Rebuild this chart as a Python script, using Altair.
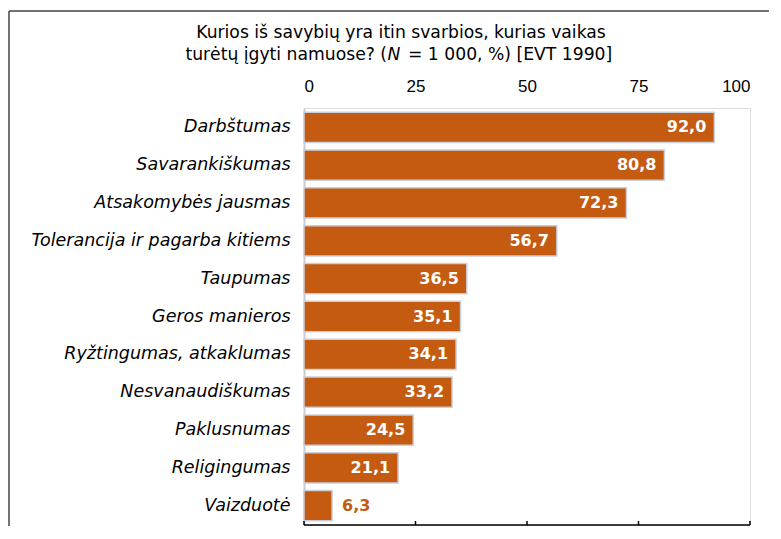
import altair as alt
import pandas as pd

categories = ["Darbštumas", "Savarankiškumas", "Atsakomybės jausmas",
              "Tolerancija ir pagarba kitiems", "Taupumas", "Geros manieros",
              "Ryžtingumas, atkaklumas", "Nesvanaudiškumas", "Paklusnumas",
              "Religingumas", "Vaizduotė"]
values = [92.0, 80.8, 72.3, 56.7, 36.5, 35.1, 34.1, 33.2, 24.5, 21.1, 6.3]
tick_values = [0, 25, 50, 75, 100]
title_line1 = "Kurios iš savybių yra itin svarbios, kurias vaikas"
title_line2_parts = ["turėtų įgyti namuose? (", "N", "= 1 000, %) [EVT 1990]"]

W, H = 446, 417
ORANGE = "#c55a11"
FONT = "Liberation Sans"
WIDE = "DejaVu Sans"
TS = 17.2

df = pd.DataFrame({"cat": categories, "val": values})
df["label"] = [f"{v:.1f}".replace(".", ",") for v in values]
ticks_df = pd.DataFrame({"t": tick_values})
title_df = pd.DataFrame({"line": [title_line1] + title_line2_parts, "row": [0, 1, 2, 3]})

xscale = alt.Scale(domain=[0, 100])
yscale = alt.Scale(domain=categories, paddingInner=0.2, paddingOuter=0.11)

base = alt.Chart(df)
one = alt.Chart(ticks_df).transform_filter(alt.datum.t == 0)

frame_top = one.mark_rule(color="#444444", strokeWidth=1.5).encode(
    x=alt.value(-295), x2=alt.value(W + 19), y=alt.value(-97))
frame_left = one.mark_rule(color="#444444", strokeWidth=1.5).encode(
    x=alt.value(-295), y=alt.value(-97), y2=alt.value(H + 60))


def tpart(row, x, y, align, style="normal"):
    return alt.Chart(title_df).mark_text(
        align=align, baseline="middle", fontSize=TS, font=WIDE, color="#000",
        fontStyle=style).encode(
        x=alt.value(x), y=alt.value(y), text="line:N"
    ).transform_filter(alt.datum.row == row)


t1 = tpart(0, 97, -75, "center")
t2a = tpart(1, 83, -53, "right")
t2b = tpart(2, 90, -53, "center", "italic")
t2c = tpart(3, 104, -53, "left")

bars = base.mark_bar(color=ORANGE, stroke="#c9d0dc", strokeWidth=1.5).encode(
    x=alt.X("val:Q", scale=xscale,
            axis=alt.Axis(orient="top", values=tick_values, format="d", title=None,
                          domain=False, ticks=False, grid=False, labelFontSize=17,
                          labelFont=FONT, labelColor="#000", labelPadding=13)),
    y=alt.Y("cat:N", scale=yscale, sort=categories,
            axis=alt.Axis(title=None, ticks=False, domainColor="#cccccc", domainWidth=2,
                          labelFontSize=17.5, labelFont=WIDE, labelFontStyle="italic",
                          labelColor="#000", labelPadding=14, labelLimit=400))
)

inside = base.mark_text(align="right", baseline="middle", dx=-8, color="white",
                        fontWeight="bold", fontSize=16, font=WIDE).encode(
    x="val:Q", y=alt.Y("cat:N", sort=categories, title=None), text="label:N"
).transform_filter(alt.datum.val >= 10)

outside = base.mark_text(align="left", baseline="middle", dx=10, color=ORANGE,
                         fontWeight="bold", fontSize=16, font=WIDE).encode(
    x="val:Q", y=alt.Y("cat:N", sort=categories, title=None), text="label:N"
).transform_filter(alt.datum.val < 10)

baseline = one.mark_rule(color="#000", strokeWidth=1.5).encode(
    x=alt.datum(0), x2=alt.datum(100), y=alt.value(H))

tick_marks = alt.Chart(ticks_df).mark_rule(color="#000", strokeWidth=1.5).encode(
    x="t:Q", y=alt.value(H - 4), y2=alt.value(H)
)

chart = alt.layer(frame_top, frame_left, t1, t2a, t2b, t2c, bars, inside, outside,
                  baseline, tick_marks).properties(
    width=W, height=H,
    padding={"left": 296, "top": 100, "right": 23, "bottom": 1},
    autosize=alt.AutoSizeParams(type="none")
).configure_view(stroke=None).configure(background="white")

chart.save("out.html", embed_options={"renderer": "svg", "actions": False})
